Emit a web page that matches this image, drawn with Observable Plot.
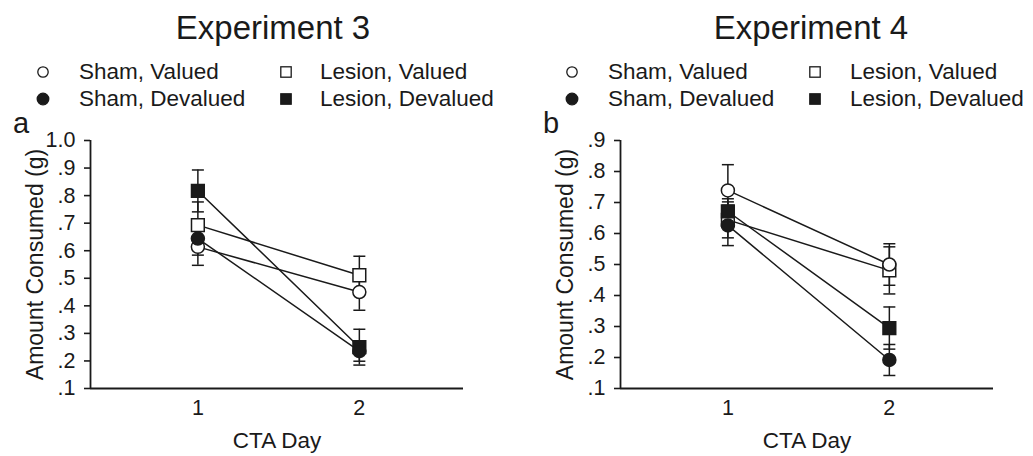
<!DOCTYPE html>
<html>
<head>
<meta charset="utf-8">
<script src="https://cdn.jsdelivr.net/npm/d3@7"></script>
<script src="https://cdn.jsdelivr.net/npm/@observablehq/plot@0.6"></script>
<style>
  html, body { margin: 0; padding: 0; background: #fff; }
  #wrap { position: relative; width: 1033px; height: 456px; overflow: hidden; font-family: "Liberation Sans", Arial, sans-serif; color: #1a1a1a; }
  .panel { position: absolute; top: 0; }
  .txt { position: absolute; white-space: nowrap; line-height: 1; }
  .title { font-size: 33px; transform: translateX(-50%); }
  .leg { font-size: 22.5px; }
  .letter { font-size: 29px; }
  .sym { position: absolute; }
  g[aria-label="y-axis tick label"], g[aria-label="x-axis tick label"] { font-size: 21.5px; }
</style>
</head>
<body>
<div id="wrap"></div>
<script>
// ---------- data ----------
const groups = ["Sham, Valued", "Sham, Devalued", "Lesion, Valued", "Lesion, Devalued"];
const groupSymbol = ["circle", "circle", "square", "square"];
const groupFill = ["white", "#1a1a1a", "white", "#1a1a1a"];
const days = [1, 2];

// Experiment 3 (panel a): means and SEM, per group, [day1, day2]
const exp3Mean = {
  "Sham, Valued":     [0.614, 0.450],
  "Sham, Devalued":   [0.644, 0.236],
  "Lesion, Valued":   [0.693, 0.511],
  "Lesion, Devalued": [0.817, 0.250]
};
const exp3Sem = {
  "Sham, Valued":     [0.067, 0.066],
  "Sham, Devalued":   [0.060, 0.037],
  "Lesion, Valued":   [0.084, 0.069],
  "Lesion, Devalued": [0.076, 0.065]
};
// Experiment 4 (panel b)
const exp4Mean = {
  "Sham, Valued":     [0.739, 0.500],
  "Sham, Devalued":   [0.626, 0.192],
  "Lesion, Valued":   [0.644, 0.481],
  "Lesion, Devalued": [0.671, 0.295]
};
const exp4Sem = {
  "Sham, Valued":     [0.083, 0.067],
  "Sham, Devalued":   [0.065, 0.050],
  "Lesion, Valued":   [0.058, 0.076],
  "Lesion, Devalued": [0.041, 0.068]
};

const exp3YTicks = [0.1, 0.2, 0.3, 0.4, 0.5, 0.6, 0.7, 0.8, 0.9, 1.0];
const exp3YLabels = [".1", ".2", ".3", ".4", ".5", ".6", ".7", ".8", ".9", "1.0"];
const exp4YTicks = [0.1, 0.2, 0.3, 0.4, 0.5, 0.6, 0.7, 0.8, 0.9];
const exp4YLabels = [".1", ".2", ".3", ".4", ".5", ".6", ".7", ".8", ".9"];
const xTicks = [1, 2];
const xTickLabels = ["1", "2"];

const titles = ["Experiment 3", "Experiment 4"];
const panelLetters = ["a", "b"];
const yLabel = "Amount Consumed (g)";
const xLabel = "CTA Day";

// ---------- build ----------
function toRows(means, sems) {
  const rows = [];
  groups.forEach((g, gi) => {
    days.forEach((d, di) => {
      rows.push({group: g, gi, day: d, mean: means[g][di], sem: sems[g][di],
                 lo: means[g][di] - sems[g][di], hi: means[g][di] + sems[g][di],
                 symbol: groupSymbol[gi], fill: groupFill[gi]});
    });
  });
  return rows;
}

const ink = "#1a1a1a";
const capSymbol = {
  draw(context, size) {
    const w = Math.sqrt(size / Math.PI);
    context.moveTo(-w, 0);
    context.lineTo(w, 0);
  }
};

function panel(rows, yTicks, yLabels, width, marginRight) {
  const xDomain = [0.335, 2.645];
  const yDomain = [yTicks[0], yTicks[yTicks.length - 1]];
  const circles = rows.filter(r => r.symbol === "circle");
  const squares = rows.filter(r => r.symbol === "square");
  return Plot.plot({
    width, height: 456,
    marginLeft: 90, marginRight, marginTop: 140, marginBottom: 68,
    style: {fontFamily: '"Liberation Sans", Arial, sans-serif', color: ink, background: "transparent", overflow: "visible"},
    x: {domain: xDomain},
    y: {domain: yDomain},
    marks: [
      Plot.axisY({ticks: yTicks, tickFormat: d => yLabels[yTicks.indexOf(d)], tickSize: 6, tickPadding: 9,
                  fontSize: 21.5, strokeWidth: 1.6, label: null}),
      Plot.axisX({ticks: xTicks, tickFormat: d => xTickLabels[xTicks.indexOf(d)], tickSize: 0, tickPadding: 11,
                  fontSize: 21.5, label: null}),
      Plot.text([yLabel], {frameAnchor: "left", textAnchor: "middle", lineAnchor: "middle", rotate: -90, dx: -55, fontSize: 23, fill: ink}),
      Plot.text([xLabel], {frameAnchor: "bottom", textAnchor: "middle", lineAnchor: "middle", dy: 52, fontSize: 22.5, fill: ink}),
      Plot.ruleX([xDomain[0]], {stroke: ink, strokeWidth: 1.8}),
      Plot.ruleY([yDomain[0]], {stroke: ink, strokeWidth: 1.8}),
      Plot.ruleX(rows, {x: "day", y1: "lo", y2: "hi", stroke: ink, strokeWidth: 1.5}),
      Plot.dot(rows, {x: "day", y: "lo", symbol: capSymbol, r: 6, stroke: ink, strokeWidth: 1.5, fill: "none"}),
      Plot.dot(rows, {x: "day", y: "hi", symbol: capSymbol, r: 6, stroke: ink, strokeWidth: 1.5, fill: "none"}),
      Plot.line(rows, {x: "day", y: "mean", z: "group", stroke: ink, strokeWidth: 1.5}),
      Plot.dot(squares, {x: "day", y: "mean", symbol: "square", r: 7.2, fill: d => d.fill, stroke: ink, strokeWidth: 1.5}),
      Plot.dot(circles, {x: "day", y: "mean", symbol: "circle", r: 6.5, fill: d => d.fill, stroke: ink, strokeWidth: 1.5})
    ]
  });
}

const wrap = document.getElementById("wrap");
const panels = [
  {rows: toRows(exp3Mean, exp3Sem), ticks: exp3YTicks, labels: exp3YLabels, left: 0, width: 516, mr: 53, titleX: 273, letterX: 13,
   leg: {c: 43, ct: 79, s: 286, st: 320}},
  {rows: toRows(exp4Mean, exp4Sem), ticks: exp4YTicks, labels: exp4YLabels, left: 530, width: 503, mr: 40, titleX: 811, letterX: 543,
   leg: {c: 572, ct: 608, s: 815, st: 850}}
];

panels.forEach((p, pi) => {
  const svg = panel(p.rows, p.ticks, p.labels, p.width, p.mr);
  const holder = document.createElement("div");
  holder.className = "panel";
  holder.style.left = p.left + "px";
  holder.appendChild(svg);
  wrap.appendChild(holder);

  const t = document.createElement("div");
  t.className = "txt title";
  t.style.left = p.titleX + "px";
  t.style.top = "11px";
  t.textContent = titles[pi];
  wrap.appendChild(t);

  const l = document.createElement("div");
  l.className = "txt letter";
  l.style.left = p.letterX + "px";
  l.style.top = "109px";
  l.textContent = panelLetters[pi];
  wrap.appendChild(l);

  // legend: column 1 = Sham (circles), column 2 = Lesion (squares); rows Valued / Devalued
  const rowY = [72, 99];
  groups.forEach((g, gi) => {
    const col = groupSymbol[gi] === "circle" ? 0 : 1;
    const row = g.includes("Devalued") ? 1 : 0;
    const sx = col === 0 ? p.leg.c : p.leg.s;
    const tx = col === 0 ? p.leg.ct : p.leg.st;
    const cy = rowY[row];
    const s = document.createElementNS("http://www.w3.org/2000/svg", "svg");
    s.setAttribute("class", "sym");
    s.setAttribute("width", 16); s.setAttribute("height", 16);
    s.style.left = (sx - 8) + "px"; s.style.top = (cy - 8) + "px";
    let shape;
    if (col === 0) {
      shape = document.createElementNS("http://www.w3.org/2000/svg", "circle");
      shape.setAttribute("cx", 8); shape.setAttribute("cy", 8);
      shape.setAttribute("r", groupFill[gi] === "white" ? 5.2 : 5.8);
    } else {
      shape = document.createElementNS("http://www.w3.org/2000/svg", "rect");
      shape.setAttribute("x", 2.8); shape.setAttribute("y", 2.8);
      shape.setAttribute("width", 10.4); shape.setAttribute("height", 10.4);
    }
    shape.setAttribute("fill", groupFill[gi]);
    shape.setAttribute("stroke", ink);
    shape.setAttribute("stroke-width", 1.3);
    s.appendChild(shape);
    wrap.appendChild(s);
    const lt = document.createElement("div");
    lt.className = "txt leg";
    lt.style.left = tx + "px";
    lt.style.top = (cy - 11) + "px";
    lt.textContent = g;
    wrap.appendChild(lt);
  });
});
</script>
</body>
</html>
